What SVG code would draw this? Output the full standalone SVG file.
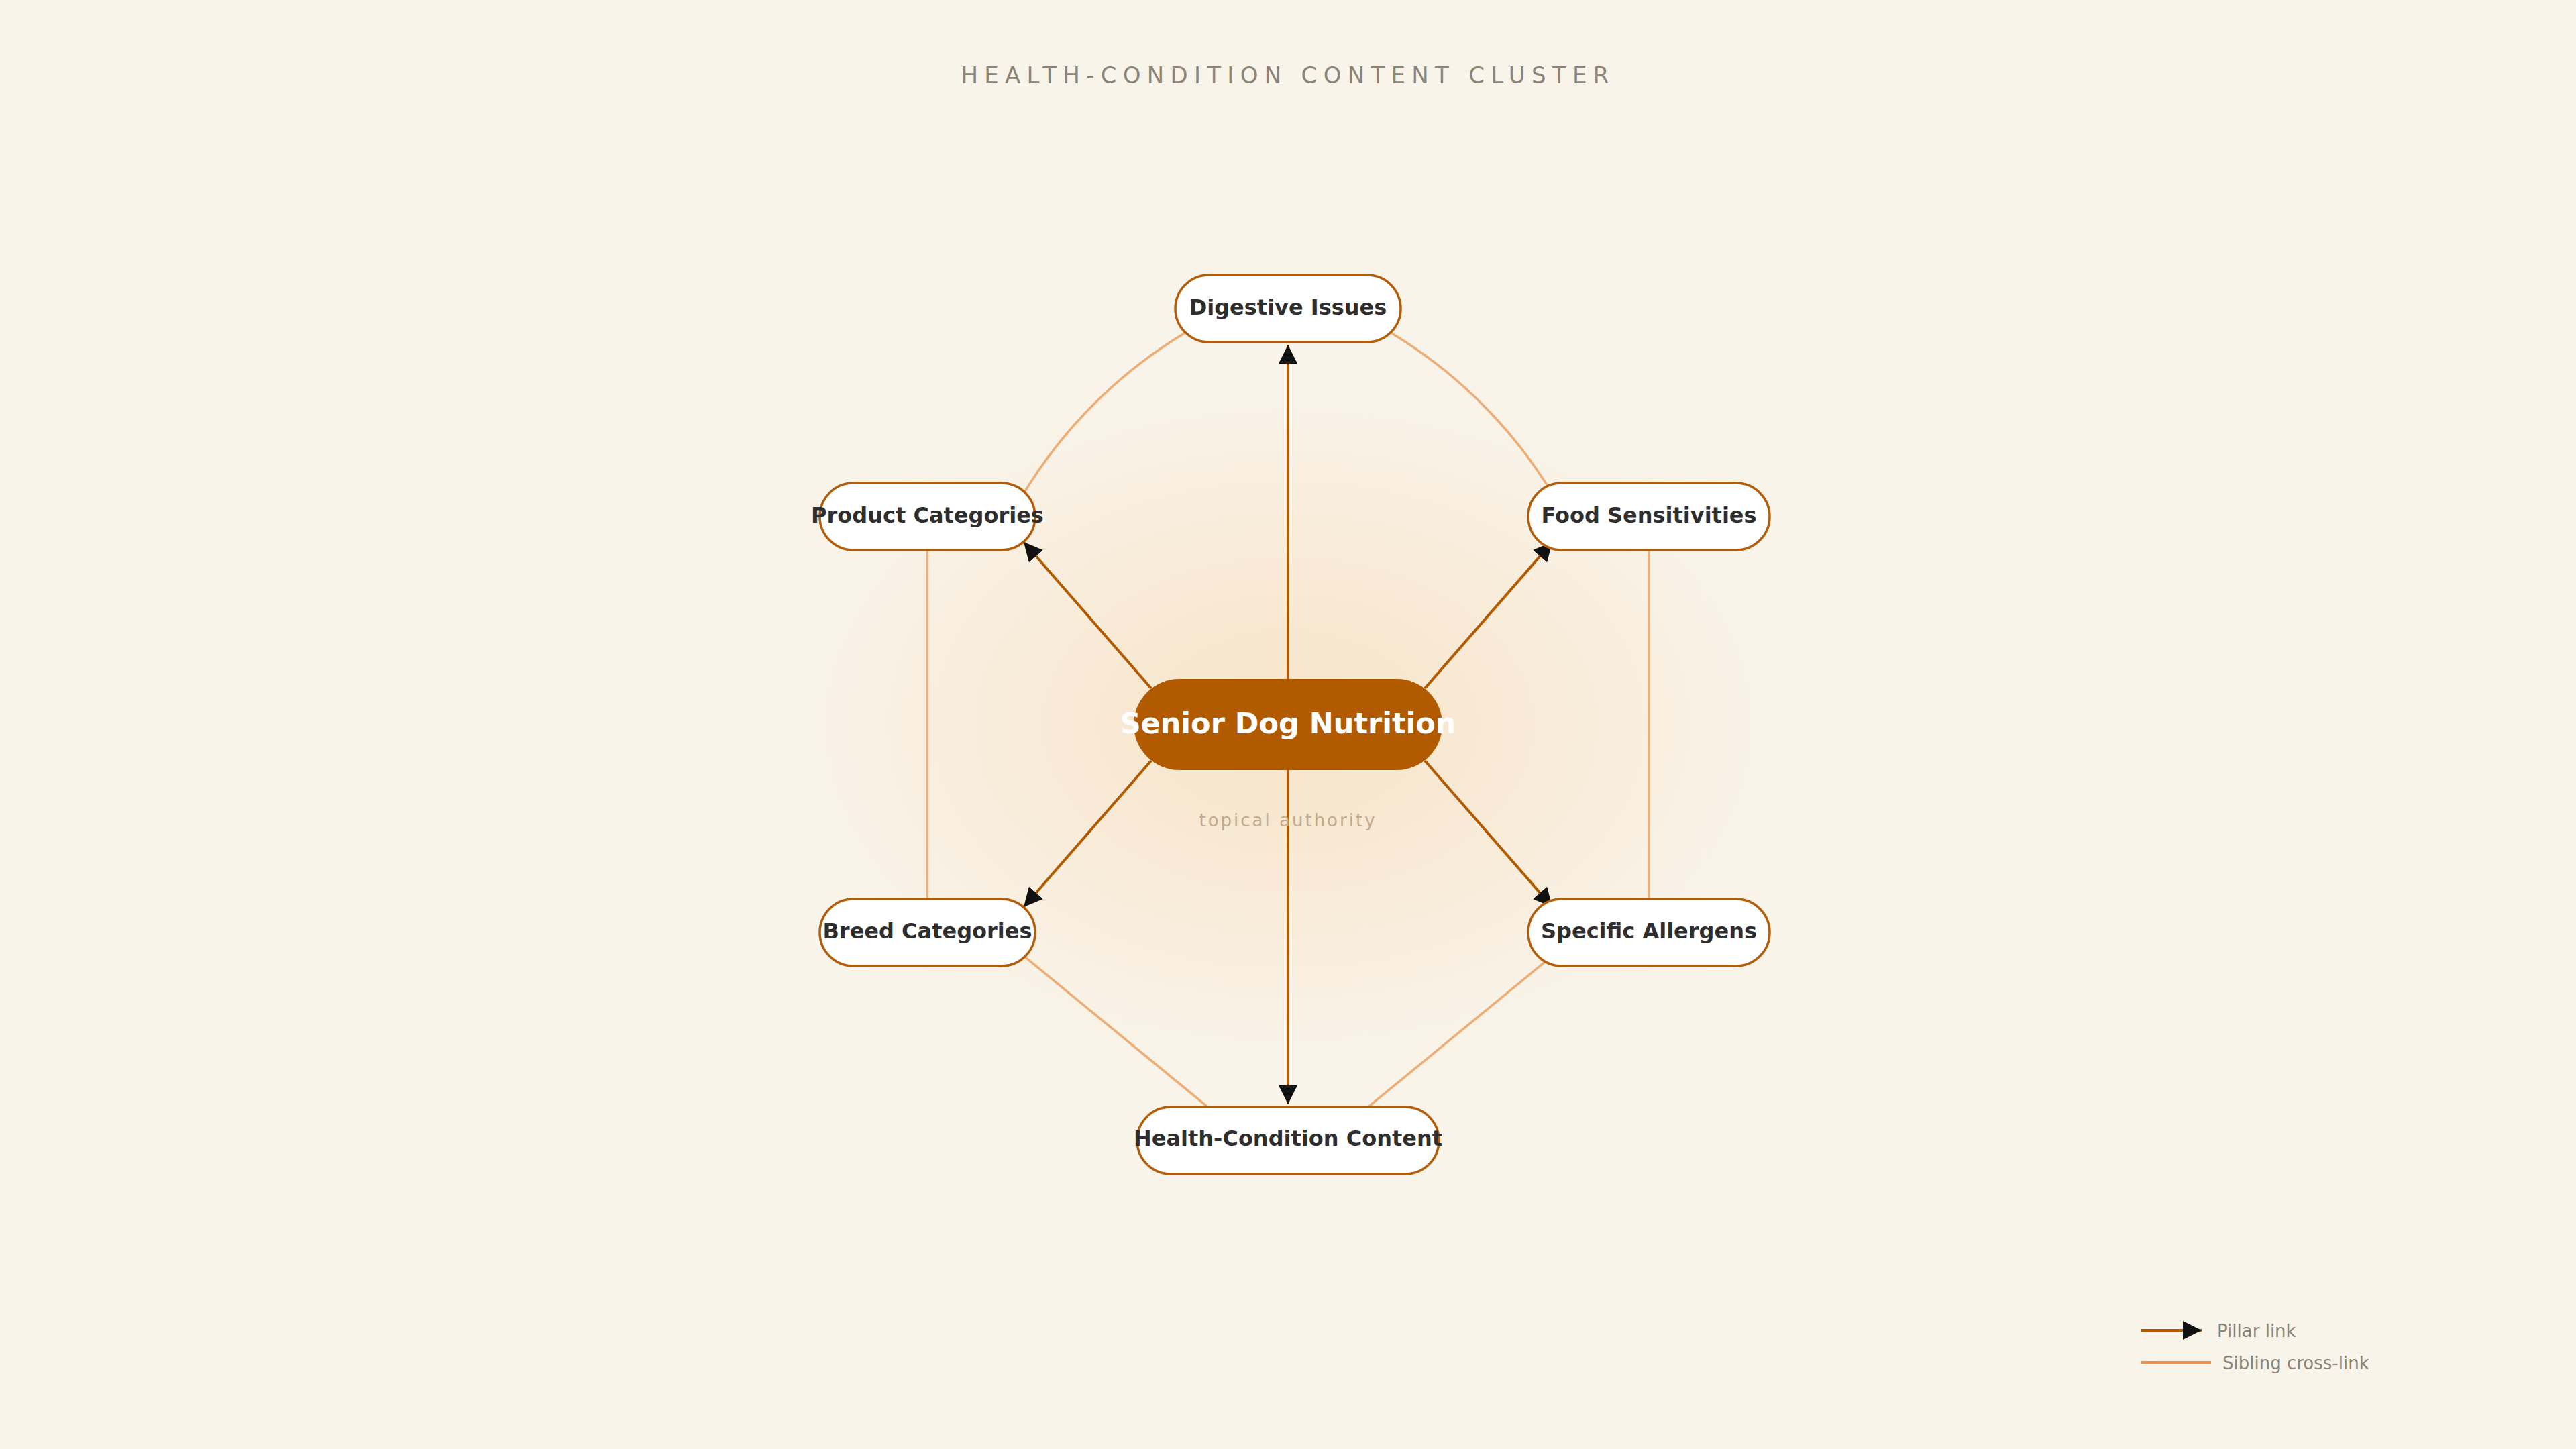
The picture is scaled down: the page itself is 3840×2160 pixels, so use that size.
<svg xmlns="http://www.w3.org/2000/svg" width="3840" height="2160" viewBox="0 0 3840 2160">
  <defs>
    <radialGradient id="glow" cx="50%" cy="50%" r="50%">
      <stop offset="0" stop-color="#f5cf9f" stop-opacity="0.45"/>
      <stop offset="0.5" stop-color="#f6d6ae" stop-opacity="0.28"/>
      <stop offset="1" stop-color="#f8e3c8" stop-opacity="0"/>
    </radialGradient>
    <marker id="arrow" viewBox="0 0 10 10" refX="10" refY="5" markerWidth="7" markerHeight="7" markerUnits="strokeWidth" orient="auto">
      <path d="M0,0 L10,5 L0,10 z" fill="#111111"/>
    </marker>
    <style>
      text { font-family: "DejaVu Sans", "Liberation Sans", sans-serif; }
      .title { font-size: 34px; letter-spacing: 9.3px; fill: #8c8478; text-anchor: middle; }
      .pillar { fill: none; stroke: #b35a00; stroke-width: 4; marker-end: url(#arrow); }
      .sibling { fill: none; stroke: #e8914a; stroke-width: 3.5; stroke-opacity: 0.72; }
      .node rect { fill: #ffffff; stroke: #b35c0a; stroke-width: 3.5; }
      .node text { font-size: 32px; font-weight: bold; fill: #2e2e2e; text-anchor: middle; }
      .hub rect { fill: #b25a00; }
      .hub text { font-size: 43px; font-weight: bold; fill: #ffffff; text-anchor: middle; }
      .sub { font-size: 26px; letter-spacing: 3px; fill: #c2ab8c; text-anchor: middle; }
      .legend text { font-size: 26px; fill: #8c8478; }
    </style>
  </defs>

  <rect width="3840" height="2160" fill="#f9f4ea"/>
  <ellipse cx="1920" cy="1080" rx="820" ry="560" fill="url(#glow)"/>

  <text class="title" x="1920" y="124">HEALTH-CONDITION CONTENT CLUSTER</text>

  <g id="connectors">
    <g id="sibling-links">
      <path class="sibling" d="M1777,490 A708,708 0 0 0 1518,749"/>
      <path class="sibling" d="M2063,490 A708,708 0 0 1 2322,749"/>
      <path class="sibling" d="M1382.5,815 L1382.5,1345"/>
      <path class="sibling" d="M2458,815 L2458,1345"/>
      <path class="sibling" d="M1514,1415 L1810,1658"/>
      <path class="sibling" d="M2326,1415 L2030,1658"/>
    </g>
    <g id="pillar-links">
      <path class="pillar" d="M1920,1012 L1920,514"/>
      <path class="pillar" d="M1920,1148 L1920,1646"/>
      <path class="pillar" d="M1716,1026 L1526,808"/>
      <path class="pillar" d="M2124,1026 L2314,808"/>
      <path class="pillar" d="M1716,1134 L1526,1352"/>
      <path class="pillar" d="M2124,1134 L2314,1352"/>
    </g>
  </g>

  <g id="node-digestive" class="node">
    <rect x="1752" y="410" width="336" height="100" rx="50"/>
    <text x="1920" y="469">Digestive Issues</text>
  </g>
  <g id="node-product" class="node">
    <rect x="1222" y="720" width="321" height="100" rx="50"/>
    <text x="1382.5" y="779">Product Categories</text>
  </g>
  <g id="node-food" class="node">
    <rect x="2278" y="720" width="360" height="100" rx="50"/>
    <text x="2458" y="779">Food Sensitivities</text>
  </g>
  <g id="node-breed" class="node">
    <rect x="1222" y="1340" width="321" height="100" rx="50"/>
    <text x="1382.5" y="1399">Breed Categories</text>
  </g>
  <g id="node-specific" class="node">
    <rect x="2278" y="1340" width="360" height="100" rx="50"/>
    <text x="2458" y="1399">Specific Allergens</text>
  </g>
  <g id="node-health" class="node">
    <rect x="1695" y="1650" width="450" height="100" rx="50"/>
    <text x="1920" y="1708">Health-Condition Content</text>
  </g>
  <g id="node-hub" class="hub">
    <rect x="1690" y="1012" width="460" height="136" rx="68"/>
    <text x="1920" y="1093">Senior Dog Nutrition</text>
  </g>
  <text class="sub" x="1920" y="1232">topical authority</text>

  <g id="legend" class="legend">
    <path class="pillar" d="M3192,1983 L3282,1983"/>
    <text x="3305" y="1993">Pillar link</text>
    <path d="M3192,2031 L3296,2031" stroke="#e8914a" stroke-width="4" fill="none"/>
    <text x="3313" y="2041">Sibling cross-link</text>
  </g>
</svg>
